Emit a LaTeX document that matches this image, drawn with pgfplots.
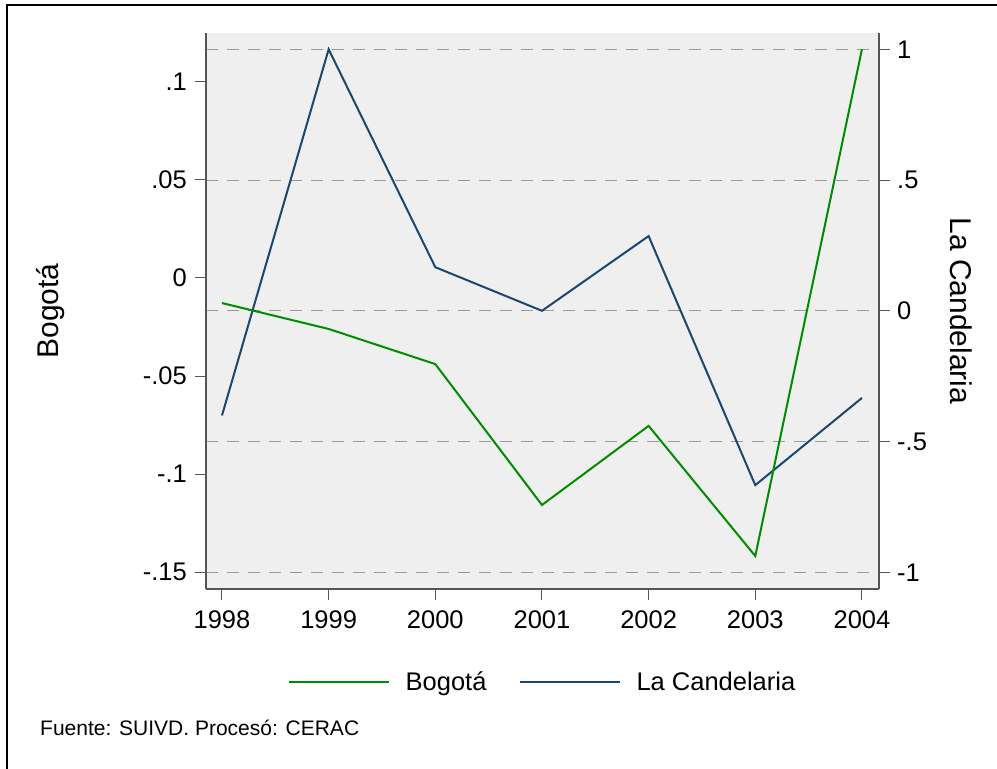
\documentclass[border=0pt]{standalone}
\usepackage{fontspec}
\setmainfont{Liberation Sans}
\usepackage{pgfplots}
\pgfplotsset{compat=1.18}
\definecolor{stgreen}{HTML}{008C00}
\definecolor{stnavy}{HTML}{1A476F}
\definecolor{plotbg}{HTML}{EFEFEF}
\definecolor{axgray}{HTML}{555555}
\definecolor{gridgray}{HTML}{9A9A9A}

\pgfplotsset{
  stata/.style={
    scale only axis, width=673pt, height=556pt,
    at={(206pt,180pt)}, anchor=south west,
    xmin=1997.85, xmax=2004.16,
    tick align=outside, major tick length=11pt,
    tick style={axgray, line width=1pt},
    axis line style={axgray, line width=1.2pt, -},
    tick label style={font=\fontsize{25.5}{30}\selectfont, inner sep=0pt},
    label style={font=\fontsize{30}{36}\selectfont, inner sep=0pt},
    /pgf/number format/assume math mode=true,
  }
}

\begin{document}
\begin{tikzpicture}[x=1pt,y=1pt]
\useasboundingbox (0,0) rectangle (997,769);
\fill[white] (0,0) rectangle (997,769);
\draw[black, line width=1.5pt] (7,0) -- (7,764) -- (997,764);

% right axis: La Candelaria, with background and grid
\begin{axis}[stata,
  axis x line=none, axis y line*=right,
  axis background/.style={fill=plotbg},
  ymin=-1.0638, ymax=1.0623,
  ytick={-1,-0.5,0,0.5,1}, yticklabels={-1,-.5,0,.5,1},
  yticklabel style={anchor=west, xshift=7pt},
  ymajorgrids=true,
  grid style={gridgray, line width=1pt, dash pattern=on 12pt off 9pt},
  ylabel={La Candelaria},
  ylabel style={at={(axis description cs:1.1218,0.5)}, anchor=center, rotate=180},
]
\addplot[stnavy, line width=2pt] coordinates {(1998,-0.4) (1999,1.0) (2000,0.1667) (2001,0.0) (2002,0.2857) (2003,-0.6667) (2004,-0.3333)};
\end{axis}

% left axis: Bogota
\begin{axis}[stata,
  axis x line*=bottom, axis y line*=left,
  ymin=-0.1585, ymax=0.1248,
  ytick={-0.15,-0.1,-0.05,0,0.05,0.1}, yticklabels={-.15,-.1,-.05,0,.05,.1},
  yticklabel style={anchor=east, xshift=-8pt},
  xtick={1998,1999,2000,2001,2002,2003,2004},
  xticklabels={1998,1999,2000,2001,2002,2003,2004},
  xticklabel style={anchor=north, yshift=-10pt},
  ylabel={Bogotá},
  ylabel style={at={(axis description cs:-0.2303,0.5)}, anchor=center},
  legend style={at={(axis description cs:0.5,-0.167)}, anchor=center,
    draw=none, fill=none, legend columns=2,
    font=\fontsize{25.5}{30}\selectfont,
    /tikz/every odd column/.append style={column sep=14pt},
    /tikz/every even column/.append style={column sep=30pt}},
  legend image code/.code={\draw[#1] (0pt,0pt) -- (100pt,0pt);},
]
\addplot[stgreen, line width=2pt] coordinates {(1998,-0.0128) (1999,-0.0260) (2000,-0.0439) (2001,-0.1157) (2002,-0.0754) (2003,-0.1417) (2004,0.1165)};
\addlegendentry{Bogotá}
\addlegendimage{stnavy, line width=2pt}
\addlegendentry{La Candelaria}
\end{axis}

\node[anchor=base west, font=\fontsize{21}{25}\selectfont, inner sep=0pt] at (40,33) {Fuente: SUIVD. Procesó: CERAC};
\end{tikzpicture}
\end{document}
